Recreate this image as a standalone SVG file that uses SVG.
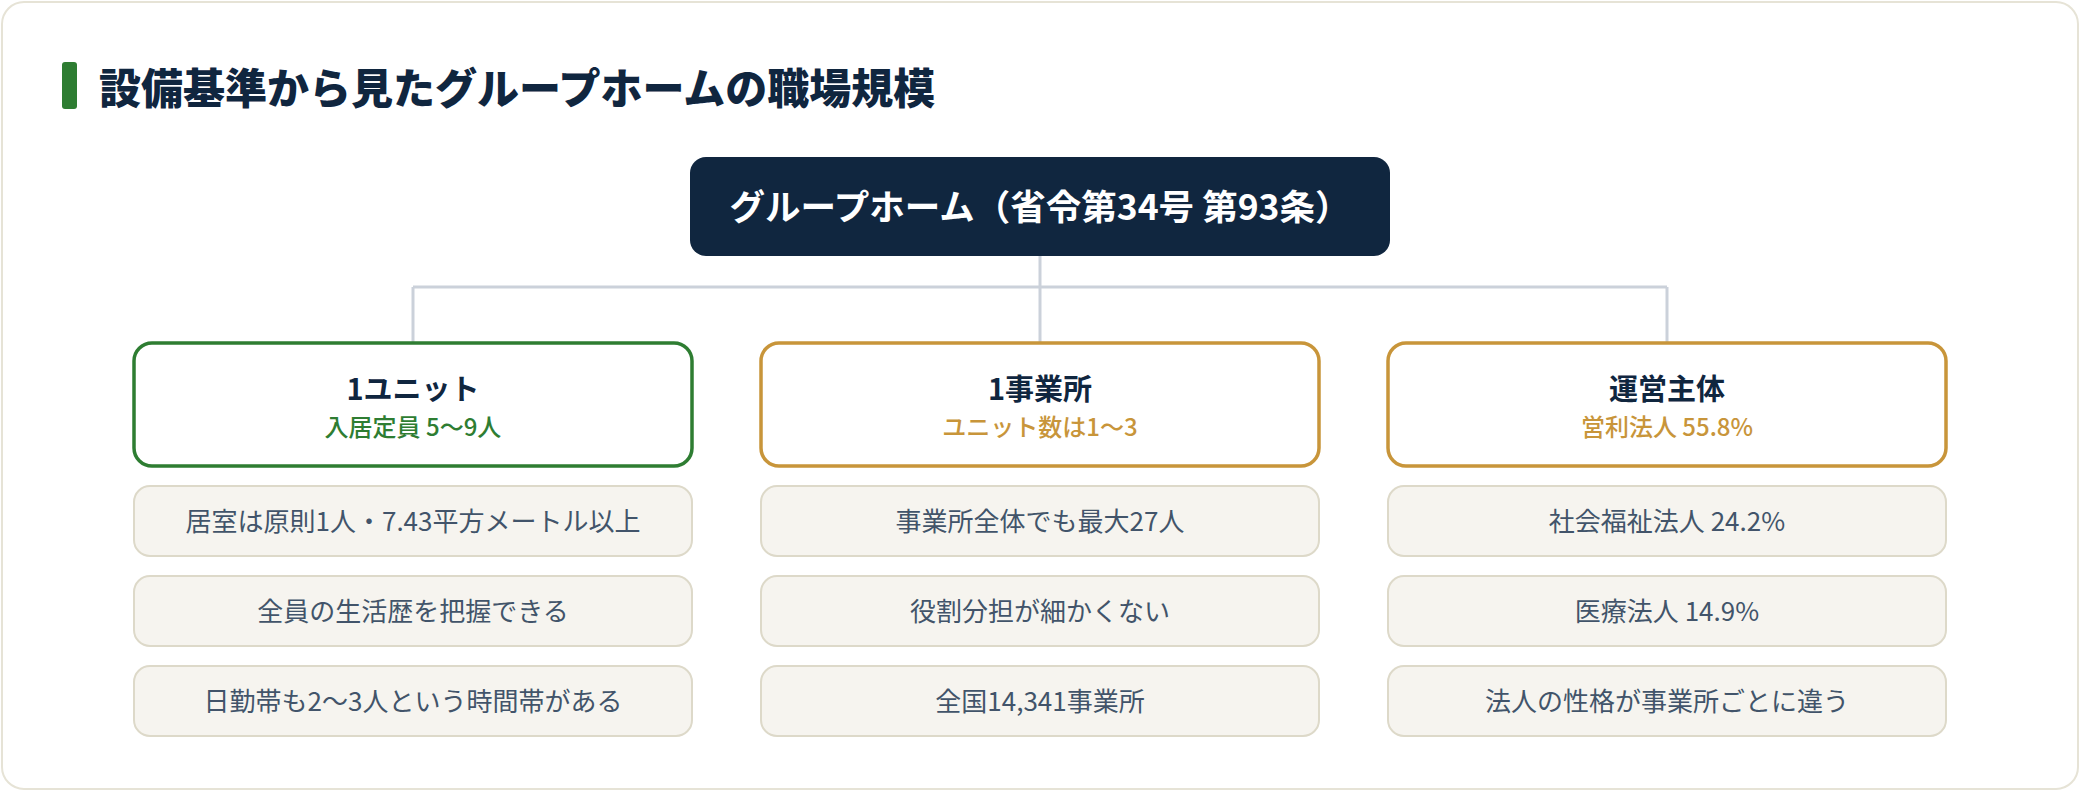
<svg xmlns="http://www.w3.org/2000/svg" width="2080" height="792" viewBox="0 0 2080 792">
<style>
text{font-family:"Noto Sans CJK JP","Noto Sans",sans-serif;text-anchor:middle}
.title{font-size:42px;font-weight:900;fill:#10263f;text-anchor:start}
.root-t{font-size:35.5px;font-weight:700;fill:#ffffff}
.hd{fill:#ffffff;stroke-width:3.5}
.hd-t{font-size:29px;font-weight:700;fill:#10263f}
.sub{font-size:24px;font-weight:500}
.item{fill:#f6f4ef;stroke:#ddd9c9;stroke-width:2}
.item-t{font-size:26px;font-weight:400;fill:#42546a}
.conn{fill:none;stroke:#cbd1da;stroke-width:3}
</style>
<rect x="0" y="0" width="2080" height="792" fill="#ffffff"/>
<rect x="2" y="2" width="2076" height="787" rx="22" fill="#ffffff" stroke="#e6e3d6" stroke-width="2"/>
<g id="title">
<rect x="62" y="62" width="15" height="47" rx="3" fill="#2e7d32"/>
<text class="title" x="99" y="104">設備基準から見たグループホームの職場規模</text>
</g>
<g id="connectors">
<path class="conn" d="M1040 256 V342"/>
<path class="conn" d="M413 287 H1667"/>
<path class="conn" d="M413 287 V342"/>
<path class="conn" d="M1667 287 V342"/>
</g>
<g id="root">
<rect x="690" y="157" width="700" height="99" rx="16" fill="#10263f"/>
<text class="root-t" x="1040" y="220">グループホーム（省令第34号 第93条）</text>
</g>
<g id="unit">
<rect class="hd" x="134" y="343" width="558" height="123" rx="18" stroke="#2e7d32"/>
<text class="hd-t" x="413" y="400">1ユニット</text>
<text class="sub" x="413" y="436" fill="#2e7d32">入居定員 5〜9人</text>
</g>
<g id="unit-1"><rect class="item" x="134" y="486" width="558" height="70" rx="16"/><text class="item-t" x="413" y="531">居室は原則1人・7.43平方メートル以上</text></g>
<g id="unit-2"><rect class="item" x="134" y="576" width="558" height="70" rx="16"/><text class="item-t" x="413" y="621">全員の生活歴を把握できる</text></g>
<g id="unit-3"><rect class="item" x="134" y="666" width="558" height="70" rx="16"/><text class="item-t" x="413" y="711">日勤帯も2〜3人という時間帯がある</text></g>
<g id="office">
<rect class="hd" x="761" y="343" width="558" height="123" rx="18" stroke="#c8953a"/>
<text class="hd-t" x="1040" y="400">1事業所</text>
<text class="sub" x="1040" y="436" fill="#c8953a">ユニット数は1〜3</text>
</g>
<g id="office-1"><rect class="item" x="761" y="486" width="558" height="70" rx="16"/><text class="item-t" x="1040" y="531">事業所全体でも最大27人</text></g>
<g id="office-2"><rect class="item" x="761" y="576" width="558" height="70" rx="16"/><text class="item-t" x="1040" y="621">役割分担が細かくない</text></g>
<g id="office-3"><rect class="item" x="761" y="666" width="558" height="70" rx="16"/><text class="item-t" x="1040" y="711">全国14,341事業所</text></g>
<g id="operator">
<rect class="hd" x="1388" y="343" width="558" height="123" rx="18" stroke="#c8953a"/>
<text class="hd-t" x="1667" y="400">運営主体</text>
<text class="sub" x="1667" y="436" fill="#c8953a">営利法人 55.8%</text>
</g>
<g id="operator-1"><rect class="item" x="1388" y="486" width="558" height="70" rx="16"/><text class="item-t" x="1667" y="531">社会福祉法人 24.2%</text></g>
<g id="operator-2"><rect class="item" x="1388" y="576" width="558" height="70" rx="16"/><text class="item-t" x="1667" y="621">医療法人 14.9%</text></g>
<g id="operator-3"><rect class="item" x="1388" y="666" width="558" height="70" rx="16"/><text class="item-t" x="1667" y="711">法人の性格が事業所ごとに違う</text></g>
</svg>
